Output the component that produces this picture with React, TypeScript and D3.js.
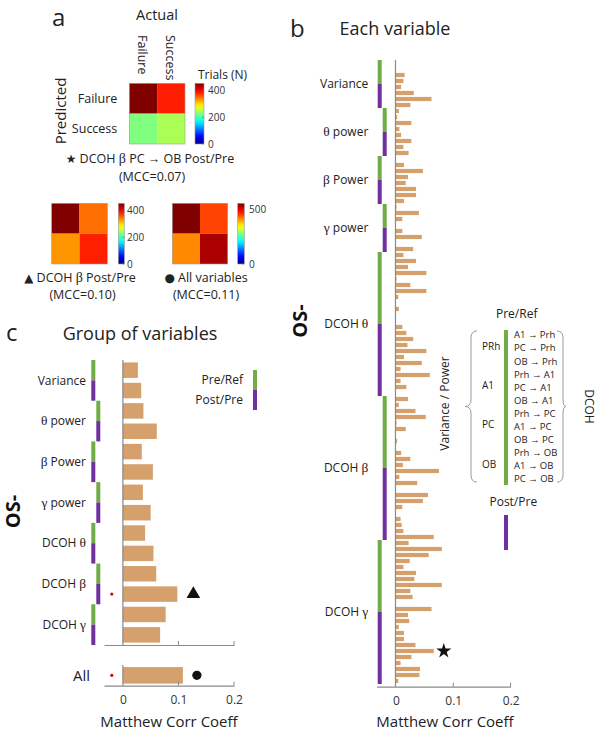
import { useEffect, useRef } from "react";
import * as d3 from "d3";

// ---------- panel a : confusion matrices (rows = predicted, columns = actual)
const classes = ["Failure", "Success"];
const matrixStar = [
  [455, 385],
  [228, 247],
];
const matrixTriangle = [
  [455, 349],
  [331, 384],
];
const matrixCircle = [
  [562, 455],
  [416, 538],
];
const ticksStar = [0, 200, 400];
const ticksTriangle = [0, 200, 400];
const ticksCircle = [0, 500];

// ---------- panels b and c : variable groups
const groups = ["Variance", "θ power", "β Power", "γ power", "DCOH θ", "DCOH β", "DCOH γ"];
const conditions = ["Pre/Ref", "Post/Pre"];
const mccTicks = [0, 0.1, 0.2];

// panel c : one bar per group and condition (Pre/Ref, Post/Pre)
const groupMcc = [0.027, 0.033, 0.037, 0.061, 0.034, 0.054, 0.036, 0.05, 0.04, 0.055, 0.06, 0.098, 0.077, 0.067];
const allMcc = 0.108;
const significantRows = [11];
const triangleRow = 11;

// panel b : one bar per variable, Pre/Ref values first then Post/Pre values
const varianceMcc = [0, 0, 0.015, 0.013, 0.009, 0.031, 0.062, 0.025];
const thetaPowerMcc = [0.005, 0.002, 0.027, 0.006, 0.009, 0.027, 0.013, 0.022];
const betaPowerMcc = [0, 0.014, 0.047, 0.021, 0.017, 0.035, 0.035, 0.014];
const gammaPowerMcc = [0.001, 0.04, 0.011, 0, 0.011, 0.045, 0, 0.03];
const dcohThetaMcc = [
  0.013, 0.035, 0.021, 0.053, 0.001, 0.025, 0.053, 0.004, 0, 0.005, 0, 0,
  0.011, 0.018, 0.03, 0.02, 0.053, 0.014, 0.045, 0.008, 0.059, 0.008, 0.018, 0,
];
const dcohBetaMcc = [
  0.021, 0.005, 0.034, 0.052, 0.001, 0.017, 0, 0.002, 0, 0.009, 0.025, 0.012,
  0.075, 0.006, 0.037, 0, 0.056, 0.047, 0.011, 0, 0.008, 0.01, 0.013, 0.066,
];
const dcohGammaMcc = [
  0.022, 0.08, 0.057, 0.024, 0.013, 0.035, 0.032, 0.08, 0.025, 0.029, 0, 0.062,
  0.021, 0.023, 0.005, 0.014, 0.014, 0.034, 0.066, 0.027, 0.008, 0.042, 0.041, 0.004,
];
const starRow = 98;

const regions = ["PRh", "A1", "PC", "OB"];
const pairs = [
  "A1 → Prh", "PC → Prh", "OB → Prh",
  "Prh → A1", "PC → A1", "OB → A1",
  "Prh → PC", "A1 → PC", "OB → PC",
  "Prh → OB", "A1 → OB", "PC → OB",
];

const FONT = "'Open Sans', 'Liberation Sans', sans-serif";
const SERIF = "'Liberation Serif', 'DejaVu Serif', serif";
const SYMBOL = "'DejaVu Sans', sans-serif";
const BAR = "#D5A06B";
const GREEN = "#70AD47";
const PURPLE = "#7030A0";
const AXIS = "#8a8a8a";
const TEXT = "#222";

// MATLAB jet colormap
const jet = (t) => {
  const c = (v) => Math.round(255 * Math.max(0, Math.min(1, v)));
  return `rgb(${c(1.5 - Math.abs(4 * t - 3))},${c(1.5 - Math.abs(4 * t - 2))},${c(1.5 - Math.abs(4 * t - 1))})`;
};

// text with greek letters in serif and symbols in DejaVu
function label(parent, str, x, y, o: any = {}) {
  const size = o.size || 12;
  const t = parent
    .append("text")
    .attr("x", x)
    .attr("y", y)
    .attr("font-family", FONT)
    .attr("font-size", size)
    .attr("font-weight", o.weight || "normal")
    .attr("fill", o.color || TEXT)
    .attr("text-anchor", o.anchor || "start");
  if (o.dy) t.attr("dy", o.dy);
  if (o.rotate) t.attr("transform", `rotate(${o.rotate},${x},${y})`);
  str.split(/([α-ω]|[★▲●])/).forEach((part) => {
    if (!part) return;
    const s = t.append("tspan").text(part);
    if (/[α-ω]/.test(part)) s.attr("font-family", SERIF).attr("font-size", size * 1.12);
    if (/[★▲●]/.test(part)) s.attr("font-family", SYMBOL).attr("font-size", size * 0.95);
  });
  return t;
}

function drawMatrix(svg, id, matrix, ticks, box, cbar, tickX, showLabels) {
  const x = d3.scaleBand(d3.range(2), [box.x0, box.x1]);
  const y = d3.scaleBand(d3.range(2), [box.y0, box.y1]);
  const max = d3.max(matrix.flat());
  const color = d3.scaleLinear([0, max], [0, 1]);

  matrix.forEach((row, r) =>
    row.forEach((v, c) => {
      svg
        .append("rect")
        .attr("x", x(c))
        .attr("y", y(r))
        .attr("width", x.bandwidth())
        .attr("height", y.bandwidth())
        .attr("fill", jet(color(v)));
    })
  );
  svg
    .append("rect")
    .attr("x", box.x0)
    .attr("y", box.y0)
    .attr("width", box.x1 - box.x0)
    .attr("height", box.y1 - box.y0)
    .attr("fill", "none")
    .attr("stroke", "#999")
    .attr("stroke-width", 0.6);

  // colorbar
  const grad = svg
    .append("defs")
    .append("linearGradient")
    .attr("id", id)
    .attr("x1", 0)
    .attr("y1", 1)
    .attr("x2", 0)
    .attr("y2", 0);
  d3.range(0, 1.0001, 0.05).forEach((t) => {
    grad.append("stop").attr("offset", t).attr("stop-color", jet(t));
  });
  svg
    .append("rect")
    .attr("x", cbar.x0)
    .attr("y", box.y0)
    .attr("width", cbar.x1 - cbar.x0)
    .attr("height", box.y1 - box.y0)
    .attr("fill", `url(#${id})`)
    .attr("stroke", "#999")
    .attr("stroke-width", 0.6);
  const yc = d3.scaleLinear([0, max], [box.y1, box.y0]);
  ticks.forEach((t) => {
    svg
      .append("line")
      .attr("x1", cbar.x1 - 2)
      .attr("x2", cbar.x1)
      .attr("y1", yc(t))
      .attr("y2", yc(t))
      .attr("stroke", "#666")
      .attr("stroke-width", 0.6);
    label(svg, String(t), tickX, yc(t), { size: 10, dy: "0.35em", color: "#333" });
  });

  if (showLabels) {
    classes.forEach((c, i) => {
      label(svg, c, x(i) + x.bandwidth() / 2 - 5, 35, { size: 12.5, rotate: 90 });
      label(svg, c, box.x0 - 12, y(i) + y.bandwidth() / 2, { size: 12.5, anchor: "end", dy: "0.35em" });
    });
  }
}

function App() {
  const ref = useRef(null);

  useEffect(() => {
    const svg = d3.select(ref.current);
    svg.selectAll("*").remove();

    // ================= panel a
    label(svg, "a", 52, 26, { size: 24 });
    label(svg, "Actual", 157, 20, { size: 14.5, anchor: "middle" });
    label(svg, "Predicted", 65.5, 111, { size: 15, anchor: "middle", rotate: -90 });
    label(svg, "Trials (N)", 222.5, 79, { size: 12, anchor: "middle" });

    drawMatrix(svg, "cb1", matrixStar, ticksStar, { x0: 129.3, x1: 185, y0: 83.3, y1: 144 }, { x0: 195, x1: 204 }, 208, true);
    drawMatrix(svg, "cb2", matrixTriangle, ticksTriangle, { x0: 51.7, x1: 107.3, y0: 203.3, y1: 264 }, { x0: 118.3, x1: 124.3 }, 127, false);
    drawMatrix(svg, "cb3", matrixCircle, ticksCircle, { x0: 172.3, x1: 227.7, y0: 203.3, y1: 264 }, { x0: 237.7, x1: 244.3 }, 249, false);

    label(svg, "★ DCOH β PC → OB Post/Pre", 150, 163, { size: 12.5, anchor: "middle" });
    label(svg, "(MCC=0.07)", 152, 181, { size: 12.5, anchor: "middle" });
    label(svg, "▲ DCOH β Post/Pre", 80, 282, { size: 12.5, anchor: "middle" });
    label(svg, "(MCC=0.10)", 82.5, 299, { size: 12.5, anchor: "middle" });
    label(svg, "● All variables", 206, 282, { size: 12.5, anchor: "middle" });
    label(svg, "(MCC=0.11)", 206, 299, { size: 12.5, anchor: "middle" });

    // ================= panel c
    label(svg, "c", 6, 341, { size: 24 });
    label(svg, "Group of variables", 140, 340, { size: 18, anchor: "middle" });
    label(svg, "OS-", 20, 511.5, { size: 20, weight: "bold", anchor: "middle", rotate: -90, color: "#111" });

    const xC = d3.scaleLinear([-0.034, 0.2], [104, 234]);
    const yC = d3.scaleBand(d3.range(groupMcc.length), [360, 645]).paddingInner(0.24).paddingOuter(0.12);
    const stepC = yC.step();

    const cBars = svg.append("g");
    cBars
      .selectAll("rect")
      .data(groupMcc)
      .join("rect")
      .attr("x", xC(0))
      .attr("y", (d, i) => yC(i))
      .attr("width", (d) => xC(d) - xC(0))
      .attr("height", yC.bandwidth())
      .attr("fill", BAR);

    groups.forEach((g, gi) => {
      const x = gi % 2 === 0 ? 91.3 : 96.3;
      conditions.forEach((c, ci) => {
        const i = gi * 2 + ci;
        svg
          .append("rect")
          .attr("x", x)
          .attr("y", yC(i) - yC.paddingOuter() * stepC)
          .attr("width", 4)
          .attr("height", stepC)
          .attr("fill", ci === 0 ? GREEN : PURPLE);
      });
      label(svg, g, 86, yC(gi * 2 + 1) - yC.paddingOuter() * stepC, { size: 12, anchor: "end", dy: "0.35em" });
    });

    svg
      .append("line")
      .attr("x1", xC(0))
      .attr("x2", xC(0))
      .attr("y1", 360)
      .attr("y2", 645)
      .attr("stroke", AXIS)
      .attr("stroke-width", 1.2);

    const axisC = svg
      .append("g")
      .attr("transform", "translate(0,645)")
      .call(d3.axisBottom(xC).tickValues(mccTicks).tickFormat(d3.format("")).tickSizeInner(0).tickSizeOuter(0));
    axisC.select(".domain").attr("stroke", AXIS).attr("stroke-width", 1.2);
    axisC.selectAll(".tick text").remove();
    mccTicks.slice(1).forEach((t) => {
      svg.append("line").attr("x1", xC(t)).attr("x2", xC(t)).attr("y1", 645).attr("y2", 641).attr("stroke", AXIS);
    });

    significantRows.forEach((r) => {
      svg.append("circle").attr("cx", xC(-0.02)).attr("cy", yC(r) + yC.bandwidth() / 2).attr("r", 1.6).attr("fill", "#e00000");
    });
    svg
      .append("path")
      .attr("d", d3.symbol(d3.symbolTriangle, 80)())
      .attr("transform", `translate(${xC(groupMcc[triangleRow]) + 16},${yC(triangleRow) + yC.bandwidth() / 2})`)
      .attr("fill", "#111");

    // "All" bar
    const yAll = d3.scaleBand(["All"], [665, 685.7]).paddingInner(0.2).paddingOuter(0.1);
    svg
      .append("rect")
      .attr("x", xC(0))
      .attr("y", yAll("All"))
      .attr("width", xC(allMcc) - xC(0))
      .attr("height", yAll.bandwidth())
      .attr("fill", BAR);
    svg.append("line").attr("x1", xC(0)).attr("x2", xC(0)).attr("y1", 665).attr("y2", 685.7).attr("stroke", AXIS).attr("stroke-width", 1.2);
    const axisAll = svg
      .append("g")
      .attr("transform", "translate(0,685.7)")
      .call(d3.axisBottom(xC).tickValues(mccTicks).tickFormat(d3.format("")).tickSizeInner(0).tickSizeOuter(0).tickPadding(10));
    axisAll.select(".domain").attr("stroke", AXIS).attr("stroke-width", 1.2);
    axisAll.selectAll(".tick line").remove();
    axisAll.selectAll(".tick text").attr("font-family", FONT).attr("font-size", 12).attr("fill", "#333");
    mccTicks.slice(1).forEach((t) => {
      svg.append("line").attr("x1", xC(t)).attr("x2", xC(t)).attr("y1", 685.7).attr("y2", 681.7).attr("stroke", AXIS);
    });
    label(svg, "All", 90, yAll("All") + yAll.bandwidth() / 2, { size: 15, anchor: "end", dy: "0.35em" });
    svg.append("circle").attr("cx", xC(-0.02)).attr("cy", yAll("All") + yAll.bandwidth() / 2).attr("r", 1.6).attr("fill", "#e00000");
    svg
      .append("circle")
      .attr("cx", xC(allMcc) + 14)
      .attr("cy", yAll("All") + yAll.bandwidth() / 2)
      .attr("r", 4.6)
      .attr("fill", "#111");
    label(svg, "Matthew Corr Coeff", 169, 727, { size: 15, anchor: "middle" });

    // legend c
    conditions.forEach((c, ci) => {
      svg.append("rect").attr("x", 253).attr("y", 370 + ci * 20).attr("width", 4).attr("height", 20).attr("fill", ci === 0 ? GREEN : PURPLE);
      label(svg, c, 243, 380 + ci * 20, { size: 12, anchor: "end", dy: "0.35em" });
    });

    // ================= panel b
    label(svg, "b", 290, 37, { size: 24 });
    label(svg, "Each variable", 395, 35, { size: 18, anchor: "middle" });
    label(svg, "OS-", 307, 321, { size: 20, weight: "bold", anchor: "middle", rotate: -90, color: "#111" });

    const bGroups = [varianceMcc, thetaPowerMcc, betaPowerMcc, gammaPowerMcc, dcohThetaMcc, dcohBetaMcc, dcohGammaMcc];
    const bRows = bGroups.flat();
    const xB = d3.scaleLinear([-0.034, 0.2], [376.5, 510.6]);
    const yB = d3.scaleBand(d3.range(bRows.length), [60, 684]).paddingInner(0.3).paddingOuter(0.15);
    const stepB = yB.step();
    const slotTop = (i) => yB(i) - yB.paddingOuter() * stepB;

    svg
      .append("g")
      .selectAll("rect")
      .data(bRows)
      .join("rect")
      .attr("x", xB(0))
      .attr("y", (d, i) => yB(i))
      .attr("width", (d) => xB(d) - xB(0))
      .attr("height", yB.bandwidth())
      .attr("fill", BAR);

    let start = 0;
    bGroups.forEach((vals, gi) => {
      const half = vals.length / 2;
      const x = gi % 2 === 0 ? 377.7 : 382.7;
      conditions.forEach((c, ci) => {
        svg
          .append("rect")
          .attr("x", x)
          .attr("y", slotTop(start + ci * half))
          .attr("width", 4)
          .attr("height", half * stepB)
          .attr("fill", ci === 0 ? GREEN : PURPLE);
      });
      label(svg, groups[gi], 368.3, slotTop(start + half), { size: 12, anchor: "end", dy: "0.35em" });
      start += vals.length;
    });

    svg.append("line").attr("x1", xB(0) - 0.5).attr("x2", xB(0) - 0.5).attr("y1", 60).attr("y2", 686.7).attr("stroke", AXIS).attr("stroke-width", 1.2);
    const axisB = svg
      .append("g")
      .attr("transform", "translate(0,686.7)")
      .call(d3.axisBottom(xB).tickValues(mccTicks).tickFormat(d3.format("")).tickSizeInner(0).tickSizeOuter(0).tickPadding(10));
    axisB.select(".domain").attr("stroke", AXIS).attr("stroke-width", 1.2);
    axisB.selectAll(".tick line").remove();
    axisB.selectAll(".tick text").attr("font-family", FONT).attr("font-size", 12).attr("fill", "#333");
    mccTicks.slice(1).forEach((t) => {
      svg.append("line").attr("x1", xB(t)).attr("x2", xB(t)).attr("y1", 686.7).attr("y2", 682.7).attr("stroke", AXIS);
    });
    label(svg, "Matthew Corr Coeff", 445, 727, { size: 15, anchor: "middle" });

    svg
      .append("path")
      .attr("d", d3.symbol(d3.symbolStar, 70)())
      .attr("transform", `translate(${xB(bRows[starRow]) + 10},${yB(starRow) + yB.bandwidth() / 2})`)
      .attr("fill", "#111");

    // legend b
    label(svg, "Pre/Ref", 516.7, 313.3, { size: 12, anchor: "middle", dy: "0.35em" });
    const yP = d3.scaleBand(pairs, [328.5, 485.7]);
    svg.append("rect").attr("x", 504).attr("y", 330).attr("width", 4).attr("height", 155).attr("fill", GREEN);
    pairs.forEach((p) => {
      label(svg, p, 514, yP(p) + yP.bandwidth() / 2, { size: 9.5, dy: "0.35em" });
    });
    regions.forEach((r, ri) => {
      const mid = pairs[ri * 3 + 1];
      label(svg, r, 482, yP(mid) + yP.bandwidth() / 2 - 2, { size: 10, dy: "0.35em" });
    });
    const brace = (x0, tip, y0, y1) => {
      const m = (y0 + y1) / 2;
      const s = Math.sign(tip - x0);
      const xm = x0 + s * 6;
      return `M${x0},${y0} Q${xm},${y0} ${xm},${y0 + 7} L${xm},${m - 7} Q${xm},${m} ${tip},${m} Q${xm},${m} ${xm},${m + 7} L${xm},${y1 - 7} Q${xm},${y1} ${x0},${y1}`;
    };
    svg.append("path").attr("d", brace(477, 465, 331, 482)).attr("fill", "none").attr("stroke", "#999").attr("stroke-width", 1);
    svg.append("path").attr("d", brace(557, 566, 331, 482)).attr("fill", "none").attr("stroke", "#999").attr("stroke-width", 1);
    label(svg, "DCOH", 585, 406.5, { size: 12, anchor: "middle", rotate: 90 });
    label(svg, "Variance / Power", 449, 403.5, { size: 12, anchor: "middle", rotate: -90 });
    label(svg, "Post/Pre", 513.3, 501.7, { size: 12, anchor: "middle", dy: "0.35em" });
    svg.append("rect").attr("x", 504).attr("y", 515).attr("width", 4).attr("height", 35).attr("fill", PURPLE);
  }, []);

  return (
    <svg
      ref={ref}
      width={597}
      height={734}
      style={{ position: "absolute", left: 0, top: 0, background: "#fff" }}
    />
  );
}

export default App;
